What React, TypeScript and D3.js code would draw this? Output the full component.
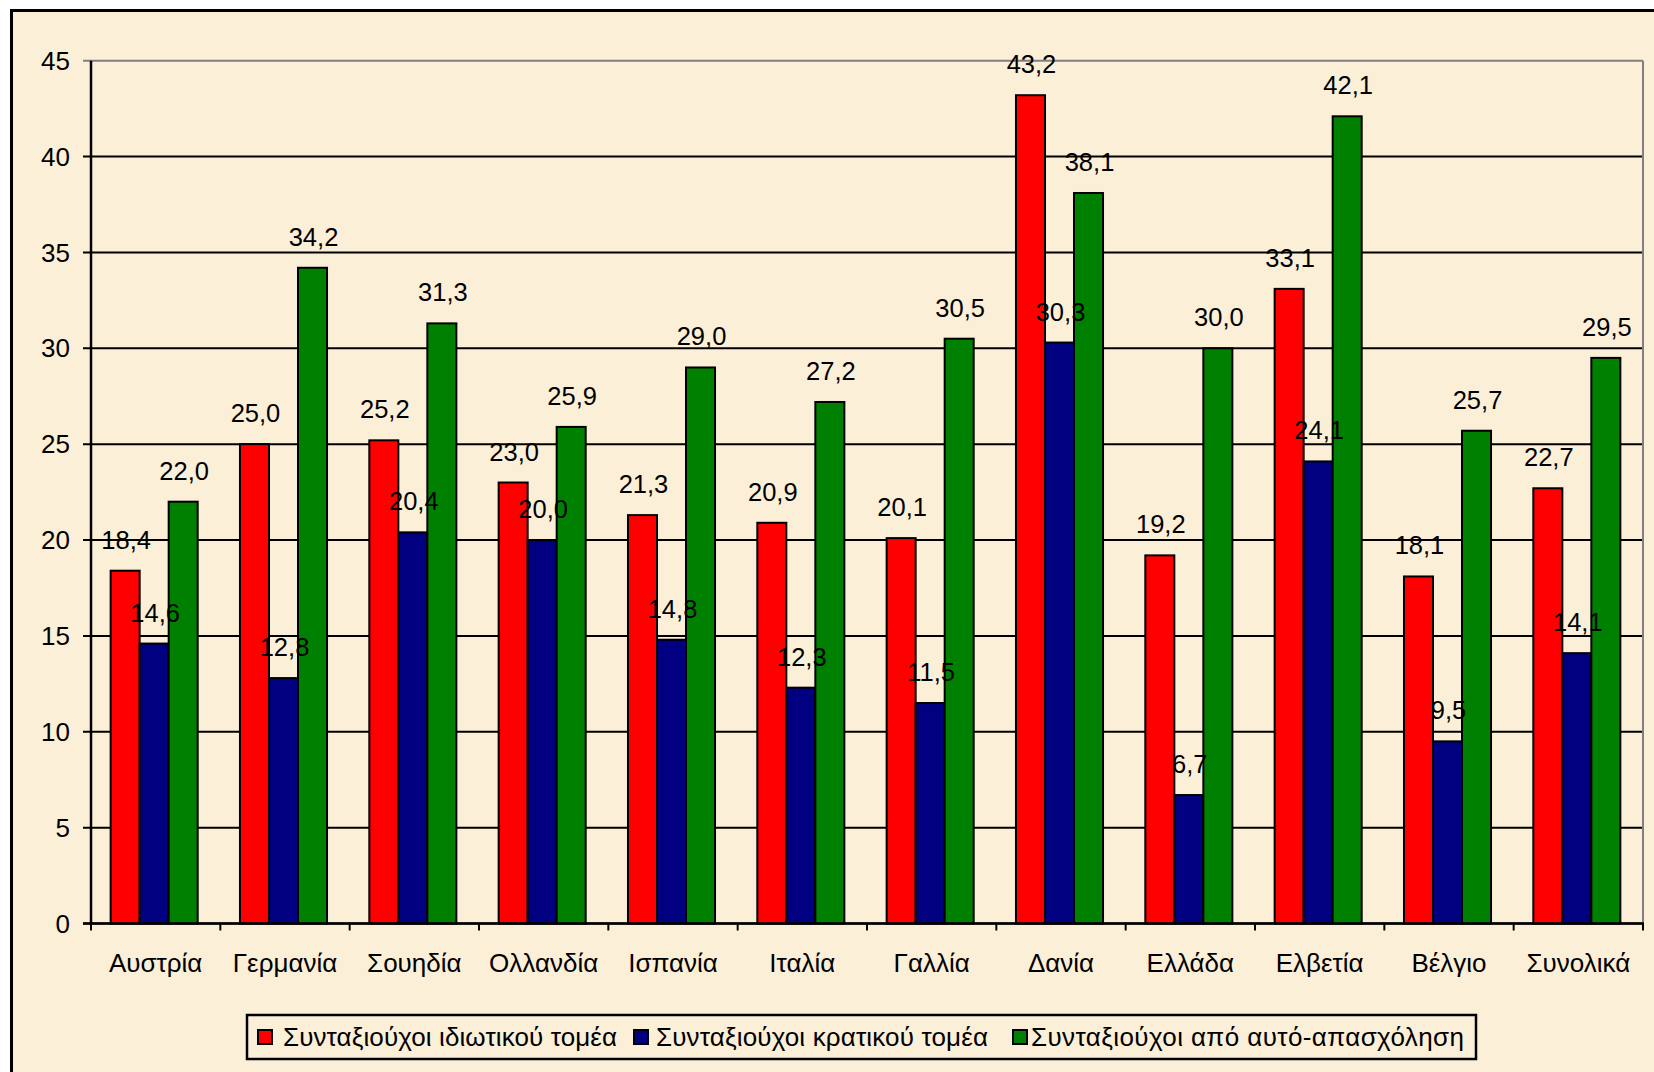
import React from "react";
import * as d3 from "d3";

const categories = ["Αυστρία", "Γερμανία", "Σουηδία", "Ολλανδία", "Ισπανία", "Ιταλία", "Γαλλία", "Δανία", "Ελλάδα", "Ελβετία", "Βέλγιο", "Συνολικά"];
const seriesNames = ["Συνταξιούχοι ιδιωτικού τομέα", "Συνταξιούχοι κρατικού τομέα", "Συνταξιούχοι από αυτό-απασχόληση"];
const privateSector = [18.4, 25.0, 25.2, 23.0, 21.3, 20.9, 20.1, 43.2, 19.2, 33.1, 18.1, 22.7];
const publicSector = [14.6, 12.8, 20.4, 20.0, 14.8, 12.3, 11.5, 30.3, 6.7, 24.1, 9.5, 14.1];
const selfEmployed = [22.0, 34.2, 31.3, 25.9, 29.0, 27.2, 30.5, 38.1, 30.0, 42.1, 25.7, 29.5];
const yTicks = [0, 5, 10, 15, 20, 25, 30, 35, 40, 45];
const seriesColors = ["#FF0000", "#000080", "#008000"];

const W = 1654;
const H = 1072;
const plotLeft = 91;
const plotRight = 1643;
const plotTop = 60.7;
const plotBottom = 923.5;
const FONT = "Arial, 'Liberation Sans', sans-serif";
const BG = "#FBEFD8";

export default function App() {
  const seriesValues = [privateSector, publicSector, selfEmployed];
  const x0 = d3.scaleBand<string>().domain(categories).range([plotLeft, plotRight]).padding(0);
  const bw = x0.bandwidth();
  const groupW = bw * 0.673;
  const x1 = d3
    .scaleBand<string>()
    .domain(seriesNames)
    .range([(bw - groupW) / 2 - 1.5, (bw + groupW) / 2 - 1.5])
    .padding(0);
  const y = d3.scaleLinear().domain([0, 45]).range([plotBottom, plotTop]);
  const fmt = (v: number) => v.toFixed(1).replace(".", ",");

  const legendItems = [
    { marker: 258, text: 283, len: 334 },
    { marker: 634, text: 656, len: 332 },
    { marker: 1013, text: 1031, len: 433 },
  ];

  return (
    <svg
      width={W}
      height={H}
      style={{ position: "absolute", left: 0, top: 0, background: "#ffffff" }}
      fontFamily={FONT}
    >
      <rect x={11.5} y={10.5} width={W + 20} height={H + 20} fill={BG} stroke="#000" strokeWidth={3} />

      {/* gridlines */}
      {yTicks.map((t) => (
        <line
          key={"g" + t}
          x1={plotLeft - 8}
          x2={plotRight}
          y1={y(t)}
          y2={y(t)}
          stroke={t === 45 ? "#808080" : "#000"}
          strokeWidth={2}
        />
      ))}
      {/* plot right border */}
      <line x1={plotRight} x2={plotRight} y1={plotTop} y2={plotBottom} stroke="#808080" strokeWidth={2} />

      {/* y tick labels */}
      {yTicks.map((t) => (
        <text key={"yl" + t} x={70} y={y(t)} dy="0.35em" textAnchor="end" fontSize={26} fill="#000">
          {t}
        </text>
      ))}

      {/* bars */}
      {categories.map((c, i) => (
        <g key={c} transform={`translate(${x0(c)},0)`}>
          {seriesNames.map((s, k) => {
            const v = seriesValues[k][i];
            return (
              <rect
                key={s}
                x={x1(s)}
                y={y(v)}
                width={x1.bandwidth()}
                height={y(0) - y(v)}
                fill={seriesColors[k]}
                stroke="#000"
                strokeWidth={2}
              />
            );
          })}
        </g>
      ))}

      {/* value labels */}
      {categories.map((c, i) => (
        <g key={"vl" + c} transform={`translate(${x0(c)},0)`}>
          {seriesNames.map((s, k) => {
            const v = seriesValues[k][i];
            return (
              <text
                key={s}
                x={(x1(s) as number) + x1.bandwidth() / 2 + 1}
                y={y(v) - 22}
                textAnchor="middle"
                fontSize={25.5}
                fill="#000"
              >
                {fmt(v)}
              </text>
            );
          })}
        </g>
      ))}

      {/* axes */}
      <line x1={plotLeft} x2={plotLeft} y1={plotTop} y2={plotBottom + 1} stroke="#000" strokeWidth={2.5} />
      <line x1={plotLeft - 8} x2={plotRight + 1} y1={plotBottom} y2={plotBottom} stroke="#000" strokeWidth={2.5} />
      {categories.map((c) => (
        <line
          key={"xt" + c}
          x1={(x0(c) as number) + bw}
          x2={(x0(c) as number) + bw}
          y1={plotBottom}
          y2={plotBottom + 7}
          stroke="#000"
          strokeWidth={2}
        />
      ))}
      <line x1={plotLeft} x2={plotLeft} y1={plotBottom} y2={plotBottom + 7} stroke="#000" strokeWidth={2} />

      {/* x labels */}
      {categories.map((c) => (
        <text
          key={"xl" + c}
          x={(x0(c) as number) + bw / 2}
          y={972}
          textAnchor="middle"
          fontSize={26}
          fill="#000"
        >
          {c}
        </text>
      ))}

      {/* legend */}
      <rect x={247} y={1015} width={1229} height={44} fill={BG} stroke="#000" strokeWidth={2.5} />
      {seriesNames.map((s, k) => (
        <g key={"lg" + s}>
          <rect
            x={legendItems[k].marker}
            y={1030}
            width={14}
            height={14}
            fill={seriesColors[k]}
            stroke="#000"
            strokeWidth={2}
          />
          <text
            x={legendItems[k].text}
            y={1046}
            fontSize={26}
            fill="#000"
            textLength={legendItems[k].len}
            lengthAdjust="spacing"
          >
            {s}
          </text>
        </g>
      ))}
    </svg>
  );
}
